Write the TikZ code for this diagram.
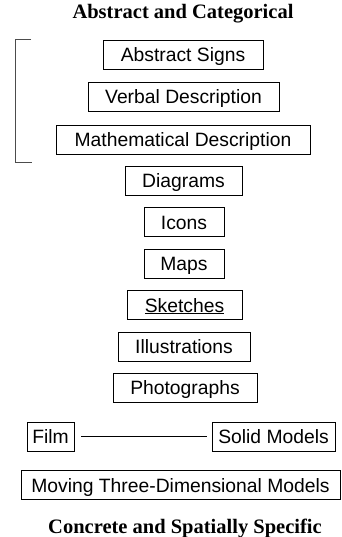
\documentclass[tikz,border=0pt]{standalone}
\usepackage{fontspec}
\setmainfont{Liberation Serif}
\setsansfont{Liberation Sans}
\usepackage{tikz}
\usetikzlibrary{positioning}
\tikzset{
    medium/.style={draw, line width=0.8pt, inner sep=0pt, minimum height=29pt,
        text height=14pt, text depth=0pt,
        font=\sffamily\fontsize{19.3}{21}\selectfont},
    heading/.style={anchor=base, font=\bfseries\fontsize{20.5}{23}\selectfont}
}

\begin{document}
\begin{tikzpicture}[x=1pt,y=1pt]
    \useasboundingbox (0,0) rectangle (341,-537);

    % the two ends of the scale
    \node[heading] (abstract) at (183,-19) {Abstract and Categorical};
    \node[heading] (concrete) at (185,-533) {Concrete and Spatially Specific};

    % the centred column of media
    \node[medium, minimum width=160pt] (signs) at (183,-55) {Abstract Signs};
    \node[medium, minimum width=191pt] (verbal) at (183.5,-96.5) {Verbal Description};
    \node[medium, minimum width=254pt] (math) at (183,-139.5) {Mathematical Description};
    \node[medium, minimum width=117pt] (diagrams) at (183.5,-180.5) {Diagrams};
    \node[medium, minimum width=80pt] (icons) at (184,-222) {Icons};
    \node[medium, minimum width=80pt] (maps) at (184,-263.5) {Maps};
    \node[medium, minimum width=115pt] (sketches) at (184.5,-305) {\underline{Sketches}};
    \node[medium, minimum width=132pt] (illustrations) at (184,-346.5) {Illustrations};
    \node[medium, minimum width=144pt] (photographs) at (185,-387.5) {Photographs};

    % film and solid models share one level
    \node[medium, minimum width=47pt] (film) at (50.5,-436.5) {Film};
    \node[medium, minimum width=123pt] (solid) at (273.5,-436.5) {Solid Models};
    \draw[line width=0.8pt, shorten <=7pt, shorten >=5pt] (film) -- (solid);

    \node[medium, minimum width=319pt] (moving) at (180.5,-485) {Moving Three-Dimensional Models};

    % bracket round the verbal group
    \coordinate (bt) at (31,-39);
    \coordinate (bb) at (32,-162);
    \draw[line width=0.8pt, black!70] (bt) -- (15,-39) -- (15,-162) -- (bb);
\end{tikzpicture}
\end{document}
